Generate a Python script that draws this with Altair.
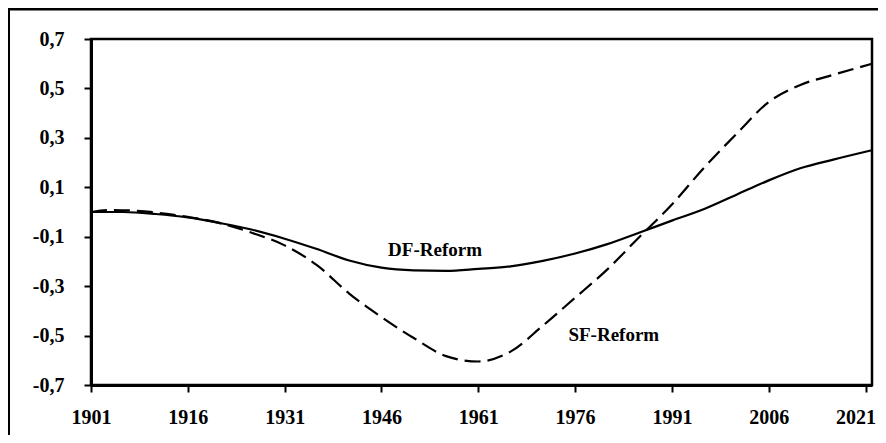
import altair as alt
import pandas as pd

# DF-Reform (solid line)
df_years = [1901, 1906, 1911, 1916, 1921, 1926, 1931, 1936, 1941, 1946, 1951, 1956,
            1961, 1966, 1971, 1976, 1981, 1986, 1991, 1996, 2001, 2006, 2011, 2016, 2022]
df_values = [0.000, 0.000, -0.008, -0.022, -0.045, -0.072, -0.108, -0.150, -0.196, -0.225,
             -0.236, -0.238, -0.230, -0.220, -0.198, -0.168, -0.130, -0.083, -0.035, 0.012,
             0.070, 0.128, 0.178, 0.212, 0.250]

# SF-Reform (dashed line)
sf_years = [1901, 1904, 1908, 1912, 1916, 1921, 1926, 1931, 1936, 1941, 1946, 1951, 1956,
            1961, 1966, 1971, 1976, 1981, 1986, 1991, 1996, 2001, 2006, 2011, 2016, 2022]
sf_values = [0.000, 0.008, 0.005, -0.005, -0.020, -0.045, -0.085, -0.135, -0.215, -0.330,
             -0.425, -0.510, -0.583, -0.605, -0.565, -0.460, -0.347, -0.232, -0.100, 0.030,
             0.180, 0.316, 0.445, 0.515, 0.555, 0.600]

x_ticks = [1901, 1916, 1931, 1946, 1961, 1976, 1991, 2006, 2021]
y_ticks = [-0.7, -0.5, -0.3, -0.1, 0.1, 0.3, 0.5, 0.7]

label_text = ["DF-Reform", "SF-Reform"]
label_year = [1954.3, 1982.0]
label_value = [-0.154, -0.498]

FONT = "Liberation Serif"

df = pd.DataFrame({"year": df_years, "value": df_values})
sf = pd.DataFrame({"year": sf_years, "value": sf_values})
labels = pd.DataFrame({"text": label_text, "year": label_year, "value": label_value})

x_enc = alt.X("year:Q",
              scale=alt.Scale(domain=[1901, 2022], nice=False, zero=False),
              axis=alt.Axis(values=x_ticks, format="d", title=None, grid=False,
                            labelFont=FONT, labelFontSize=20, labelFontWeight="bold",
                            labelColor="black", labelPadding=15, labelFlush=False,
                            labelOffset={"condition": {"test": "datum.value === 2021", "value": -10},
                                         "value": 0},
                            domainColor="black", domainWidth=3,
                            tickColor="black", tickWidth=2, tickSize=7))
y_enc = alt.Y("value:Q",
              scale=alt.Scale(domain=[-0.7, 0.7], nice=False, zero=False),
              axis=alt.Axis(values=y_ticks, title=None, grid=False,
                            labelExpr="replace(replace(format(datum.value, '.1f'), '.', ','), '\u2212', '-')",
                            labelFont=FONT, labelFontSize=20, labelFontWeight="bold",
                            labelColor="black", labelPadding=20, labelFlush=False,
                            domainColor="black", domainWidth=3,
                            tickColor="black", tickWidth=2, tickSize=7))

solid = alt.Chart(df).mark_line(color="black", strokeWidth=2.2, interpolate="monotone").encode(
    x=x_enc, y=y_enc)

dashed = alt.Chart(sf).mark_line(color="black", strokeWidth=2.2, strokeDash=[16, 7],
                                 interpolate="monotone").encode(
    x="year:Q", y="value:Q")

text = alt.Chart(labels).mark_text(font=FONT, fontSize=19, fontWeight="bold",
                                   color="black", align="center", baseline="middle").encode(
    x="year:Q", y="value:Q", text="text:N")

one = alt.Data(values=[{"a": 1}])
frame_top = alt.Chart(one).mark_rule(color="black", strokeWidth=3, clip=False).encode(
    x=alt.value(-84), x2=alt.value(900), y=alt.value(-30))
frame_left = alt.Chart(one).mark_rule(color="black", strokeWidth=3, clip=False).encode(
    x=alt.value(-82.5), y=alt.value(-31.5), y2=alt.value(500))

chart = alt.layer(frame_top, frame_left, solid, dashed, text).properties(
    width=781, height=346,
    autosize=alt.AutoSizeParams(type="none"),
    padding={"left": 83, "top": 31, "right": 6, "bottom": 50},
    background="white",
).configure_view(stroke="black", strokeWidth=2.5)

chart.save("out.html", embed_options={"renderer": "svg", "actions": False})
